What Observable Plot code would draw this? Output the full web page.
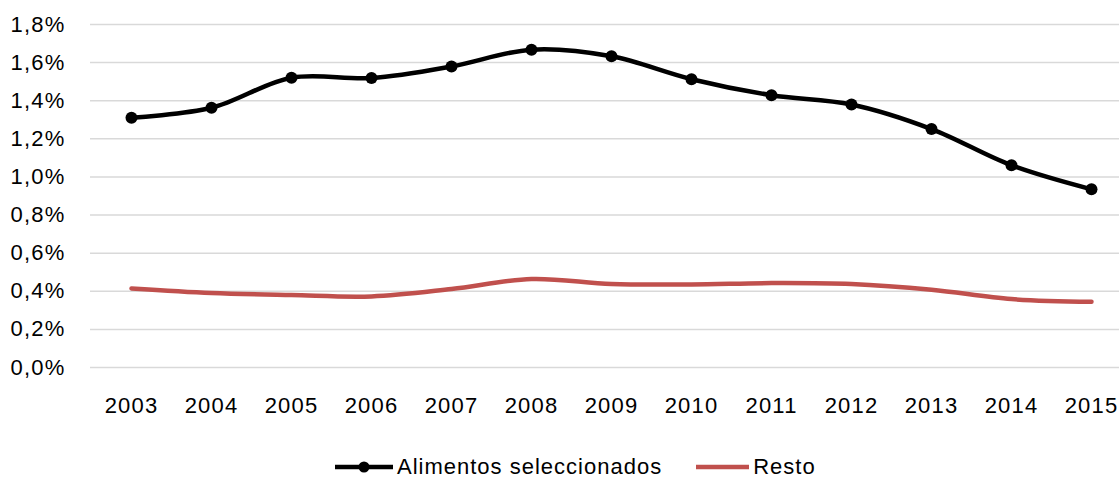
<!DOCTYPE html>
<html>
<head>
<meta charset="utf-8">
<script src="https://cdn.jsdelivr.net/npm/d3@7"></script>
<script src="https://cdn.jsdelivr.net/npm/@observablehq/plot@0.6"></script>
<style>
  html, body { margin: 0; padding: 0; background: #fff; }
  body { width: 1119px; height: 478px; position: relative; overflow: hidden; font-family: "Liberation Sans", Arial, sans-serif; }
  #chart text { letter-spacing: 1.2px; }
  #legend { position: absolute; left: 335px; top: 452px; height: 30px; display: flex; align-items: center; font-size: 22px; letter-spacing: 1px; color: #000; white-space: nowrap; }
  #legend .item { display: flex; align-items: center; }
  #legend svg { display: block; }
</style>
</head>
<body>
<div id="chart"></div>
<div id="legend"></div>
<script>
const years = ["2003","2004","2005","2006","2007","2008","2009","2010","2011","2012","2013","2014","2015"];
const alimentos = [1.311, 1.363, 1.521, 1.519, 1.580, 1.668, 1.633, 1.513, 1.429, 1.380, 1.251, 1.061, 0.935];
const resto = [0.415, 0.391, 0.380, 0.373, 0.412, 0.464, 0.438, 0.436, 0.443, 0.438, 0.408, 0.359, 0.345];
const yTicks = [0, 0.2, 0.4, 0.6, 0.8, 1.0, 1.2, 1.4, 1.6, 1.8];
const seriesNames = ["Alimentos seleccionados", "Resto"];
const seriesColors = ["#000000", "#c0504d"];

const rows = [];
years.forEach((yr, i) => {
  rows.push({year: yr, value: alimentos[i], series: seriesNames[0]});
  rows.push({year: yr, value: resto[i], series: seriesNames[1]});
});
const aRows = rows.filter(d => d.series === seriesNames[0]);
const rRows = rows.filter(d => d.series === seriesNames[1]);

const fmt = d => d.toFixed(1).replace(".", ",") + "%";

const chart = Plot.plot({
  width: 1119,
  height: 430,
  marginTop: 24,
  marginBottom: 63,
  marginLeft: 90,
  marginRight: 0,
  style: {fontFamily: '"Liberation Sans", Arial, sans-serif', fontSize: "22px", color: "#000", background: "#fff", overflow: "visible"},
  x: {type: "point", domain: years, range: [130, 1091], padding: 0, label: null},
  y: {domain: [0, 1.8], label: null},
  marks: [
    Plot.ruleY(yTicks, {stroke: "#d9d9d9", strokeWidth: 1.5}),
    Plot.axisY({ticks: yTicks, tickFormat: fmt, tickSize: 0, tickPadding: 25, label: null, fontSize: 22}),
    Plot.axisX({tickSize: 0, tickPadding: 30, label: null, fontSize: 22}),
    Plot.line(rRows, {x: "year", y: "value", stroke: seriesColors[1], strokeWidth: 4.5, curve: "catmull-rom", strokeLinecap: "round"}),
    Plot.line(aRows, {x: "year", y: "value", stroke: seriesColors[0], strokeWidth: 4.5, curve: "catmull-rom"}),
    Plot.dot(aRows, {x: "year", y: "value", fill: seriesColors[0], r: 6})
  ]
});
document.getElementById("chart").appendChild(chart);

// Legend
const legend = document.getElementById("legend");
function item(name, color, withDot, lineW, gapAfter) {
  const div = document.createElement("div");
  div.className = "item";
  div.style.marginRight = gapAfter + "px";
  const ns = "http://www.w3.org/2000/svg";
  const s = document.createElementNS(ns, "svg");
  s.setAttribute("width", lineW + 4);
  s.setAttribute("height", 20);
  const l = document.createElementNS(ns, "line");
  l.setAttribute("x1", 0); l.setAttribute("x2", lineW);
  l.setAttribute("y1", 10); l.setAttribute("y2", 10);
  l.setAttribute("stroke", color); l.setAttribute("stroke-width", 4.5);
  s.appendChild(l);
  if (withDot) {
    const c = document.createElementNS(ns, "circle");
    c.setAttribute("cx", lineW / 2); c.setAttribute("cy", 10); c.setAttribute("r", 5.5);
    c.setAttribute("fill", color);
    s.appendChild(c);
  }
  div.appendChild(s);
  const t = document.createElement("span");
  t.textContent = name;
  div.appendChild(t);
  legend.appendChild(div);
}
item(seriesNames[0], seriesColors[0], true, 58, 34);
item(seriesNames[1], seriesColors[1], false, 53, 0);
</script>
</body>
</html>
